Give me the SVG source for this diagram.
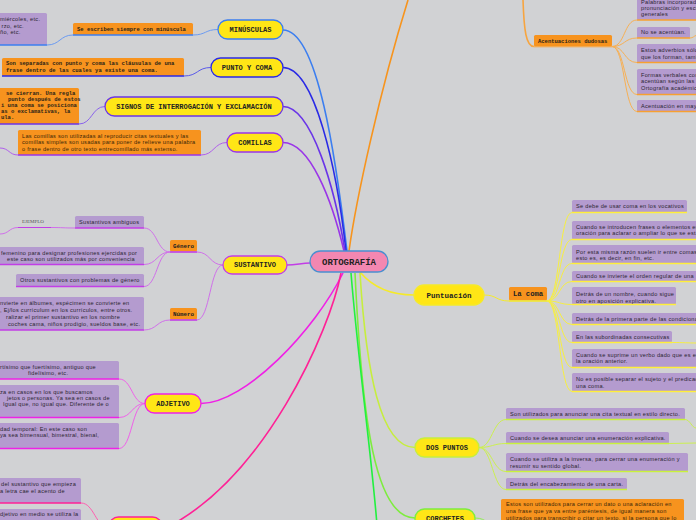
<svg xmlns="http://www.w3.org/2000/svg" width="696" height="520" viewBox="0 0 696 520">
<style>
.mn{fill:#ffe616;stroke-width:1.3}
.mt{font-family:"Liberation Mono","DejaVu Sans Mono",monospace;font-weight:bold;font-size:7px;fill:#222;text-anchor:middle}
.mo{font-family:"Liberation Mono","DejaVu Sans Mono",monospace;font-weight:bold;font-size:5.5px;fill:#2a2418}
.ob{fill:#f7931e}
.pb{fill:#b49bcf}
.st{font-family:"Liberation Sans",Arial,sans-serif;font-size:5.6px;letter-spacing:0.28px;fill:#2b2530}
.so{font-family:"Liberation Sans",Arial,sans-serif;font-size:5.6px;letter-spacing:0.28px;fill:#3a2608}
.c{fill:none;stroke-width:1}
.m{fill:none;stroke-width:1.6}
.u{stroke-width:1.6}
</style>
<rect width="696" height="520" fill="#d1d2d4"/>

<g id="connectors">
  <path class="m" stroke="#3b7ef0" d="M283,30 C318,30 336,160 347,251"/>
  <path class="m" stroke="#2a2ae6" d="M283,67.5 C315,67.5 337,170 346,251"/>
  <path class="m" stroke="#6a35e8" d="M283,106.5 C312,106.5 335,190 345,251"/>
  <path class="m" stroke="#9a35e8" d="M283,142.5 C310,142.5 332,200 344,251"/>
  <path class="m" stroke="#f7941d" d="M349,251 C356,200 380,90 408,0"/>
  <path class="m" stroke="#c23ee6" d="M287,265 C296,265 302,263 310,263"/>
  <path class="m" stroke="#f020e6" d="M201,403.5 C245,403.5 315,330 343,273"/>
  <path class="m" stroke="#ff2196" d="M341,273 C330,330 265,480 162,530"/>
  <path class="m" stroke="#f5ea2a" d="M360,272 C375,290 395,295 414,295"/>
  <path class="m" stroke="#c6ee3e" d="M360,273 C366,370 380,447.5 415,447.5"/>
  <path class="m" stroke="#7eed3e" d="M355,273 C362,420 375,518 415,518"/>
  <path class="m" stroke="#22f040" d="M351,273 C358,360 371,450 377,525"/>
  <path class="m" stroke="#f7a540" d="M523,0 C524,30 526,46.5 534,46.5"/>

  <path class="c" stroke="#6b9bf2" d="M218,29.5 C205,29.5 206,35 193,35"/>
  <path class="c" stroke="#6b9bf2" d="M73,35 C60,35 60,45 47,45"/>
  <path class="c" stroke="#5a5aea" d="M211,67.5 C197,67.5 198,76 184,76"/>
  <path class="c" stroke="#8a62ec" d="M105,106.5 C92,106.5 92,124 79,124"/>
  <path class="c" stroke="#b060ec" d="M227,142.5 C214,142.5 214,155 201,155"/>
  <path class="c" stroke="#b060ec" d="M18,155 C9,155 9,148 0,148"/>

  <path class="c" stroke="#d070ea" d="M223,265 C210,265 210,252 197,252"/>
  <path class="c" stroke="#d070ea" d="M223,265 C210,265 210,320 197,320"/>
  <path class="c" stroke="#d070ea" d="M170,252 C157,252 157,228 144,228"/>
  <path class="c" stroke="#d070ea" d="M170,252 C157,252 157,264.5 144,264.5"/>
  <path class="c" stroke="#d070ea" d="M170,252 C157,252 157,286.5 144,286.5"/>
  <path class="c" stroke="#d070ea" d="M170,320 C157,320 157,330 144,330"/>
  <path class="c" stroke="#d070ea" d="M75,228 C63,228 63,227.5 51,227.5"/>
  <path class="c" stroke="#d070ea" d="M18,227.5 C9,227.5 9,234 0,234"/>

  <path class="c" stroke="#f060ea" d="M145,403.5 C132,403.5 132,379 119,379"/>
  <path class="c" stroke="#f060ea" d="M145,403.5 C132,403.5 132,417.5 119,417.5"/>
  <path class="c" stroke="#f060ea" d="M145,403.5 C132,403.5 132,448.5 119,448.5"/>
  <path class="c" stroke="#ff60b0" d="M109,528 C96,528 94,503 81,503"/>

  <path class="c" stroke="#f7b055" d="M612,46.5 C625,46.5 624,20 637,20"/>
  <path class="c" stroke="#f7b055" d="M612,46.5 C625,46.5 624,38 637,38"/>
  <path class="c" stroke="#f7b055" d="M612,46.5 C625,46.5 624,62.5 637,62.5"/>
  <path class="c" stroke="#f7b055" d="M612,46.5 C625,46.5 624,94.5 637,94.5"/>
  <path class="c" stroke="#f7b055" d="M612,46.5 C625,46.5 624,111.5 637,111.5"/>
  <path class="c" stroke="#f7b055" d="M690,38 C693,38 694,36 696,35.5"/>

  <path class="c" stroke="#f5ea2a" d="M484,295 C497,295 496,301 509,301"/>
  <path class="c" stroke="#f7ef40" d="M547,301 C560,301 559,212.5 572,212.5"/>
  <path class="c" stroke="#f7ef40" d="M547,301 C560,301 559,239.5 572,239.5"/>
  <path class="c" stroke="#f7ef40" d="M547,301 C560,301 559,263.5 572,263.5"/>
  <path class="c" stroke="#f7ef40" d="M547,301 C560,301 559,281.5 572,281.5"/>
  <path class="c" stroke="#f7ef40" d="M547,301 C560,301 559,304.5 572,304.5"/>
  <path class="c" stroke="#f7ef40" d="M547,301 C560,301 559,324.5 572,324.5"/>
  <path class="c" stroke="#f7ef40" d="M547,301 C560,301 559,342.5 572,342.5"/>
  <path class="c" stroke="#f7ef40" d="M547,301 C560,301 559,367.5 572,367.5"/>
  <path class="c" stroke="#f7ef40" d="M547,301 C560,301 559,391.5 572,391.5"/>
  <path class="c" stroke="#f7ef40" d="M672,342.5 C684,342.5 688,343 696,343"/>

  <path class="c" stroke="#ccf050" d="M479,447.5 C492,447.5 493,419.5 506,419.5"/>
  <path class="c" stroke="#ccf050" d="M479,447.5 C492,447.5 493,443.5 506,443.5"/>
  <path class="c" stroke="#ccf050" d="M479,447.5 C492,447.5 493,471.5 506,471.5"/>
  <path class="c" stroke="#ccf050" d="M479,447.5 C492,447.5 493,489.5 506,489.5"/>
  <path class="c" stroke="#ccf050" d="M685,419.5 C690,419.5 692,428 696,428"/>
  <path class="c" stroke="#ccf050" d="M669,443.5 L696,443"/>
  <path class="c" stroke="#90ee50" d="M475,518 C488,518 488,527 501,527"/>
</g>

<g id="n-ortografia">
  <rect x="310" y="251" width="78" height="21" rx="10.5" fill="#f387b1" stroke="#4b8fd0" stroke-width="1.3"/>
  <text class="mt" x="349" y="264.8" style="font-size:9px">ORTOGRAFÍA</text>
</g>

<g id="n-minusculas">
  <rect class="mn" x="218" y="20" width="65" height="19" rx="9.5" stroke="#3b7ef0"/>
  <text class="mt" x="250.5" y="31.8">MINÚSCULAS</text>
</g>
<g id="n-minusculas-1">
  <rect class="ob" x="73" y="23" width="120" height="12" rx="1.5"/>
  <line class="u" x1="73" y1="35" x2="193" y2="35" stroke="#3b7ef0"/>
  <text class="mo" x="77" y="30.8">Se escriben siempre con minúscula</text>
</g>
<g id="n-minusculas-2">
  <rect class="pb" x="-3" y="13" width="50" height="32" rx="1.5"/>
  <line class="u" x1="0" y1="45" x2="47" y2="45" stroke="#3b7ef0"/>
  <text class="st" x="0" y="21">miércoles, etc.</text>
  <text class="st" x="1.5" y="27.5">rzo, etc.</text>
  <text class="st" x="0" y="34">ño, etc.</text>
</g>

<g id="n-puntoycoma">
  <rect class="mn" x="211" y="58" width="72" height="19" rx="9.5" stroke="#2a2ae6"/>
  <text class="mt" x="247" y="69.8">PUNTO Y COMA</text>
</g>
<g id="n-puntoycoma-1">
  <rect class="ob" x="2" y="58" width="182" height="18" rx="1.5"/>
  <line class="u" x1="2" y1="76" x2="184" y2="76" stroke="#2a2ae6"/>
  <text class="mo" x="6" y="64.6">Son separadas con punto y coma las cláusulas de una</text>
  <text class="mo" x="6" y="71.6">frase dentro de las cuales ya existe una coma.</text>
</g>

<g id="n-signos">
  <rect class="mn" x="105" y="97" width="178" height="19" rx="9.5" stroke="#6a35e8"/>
  <text class="mt" x="194" y="108.8">SIGNOS DE INTERROGACIÓN Y EXCLAMACIÓN</text>
</g>
<g id="n-signos-1">
  <rect class="ob" x="-3" y="88" width="82" height="36" rx="1.5"/>
  <line class="u" x1="0" y1="124" x2="79" y2="124" stroke="#6a35e8"/>
  <text class="mo" x="6" y="94.7">se cierran. Una regla</text>
  <text class="mo" x="8" y="100.9">punto después de estos</text>
  <text class="mo" x="1" y="107">i una coma se posiciona</text>
  <text class="mo" x="1" y="113">as o exclamativas, la</text>
  <text class="mo" x="1" y="119.3">ula.</text>
</g>

<g id="n-comillas">
  <rect class="mn" x="227" y="133" width="56" height="19" rx="9.5" stroke="#9a35e8"/>
  <text class="mt" x="255" y="144.8">COMILLAS</text>
</g>
<g id="n-comillas-1">
  <rect class="ob" x="18" y="130" width="183" height="25" rx="1.5"/>
  <line class="u" x1="18" y1="155" x2="201" y2="155" stroke="#9a35e8"/>
  <text class="so" x="22" y="138">Las comillas son utilizadas al reproducir citas textuales y las</text>
  <text class="so" x="22" y="144.4">comillas simples son usadas para poner de relieve una palabra</text>
  <text class="so" x="22" y="151">o frase dentro de otro texto entrecomillado más extenso.</text>
</g>

<g id="n-sustantivo">
  <rect class="mn" x="223" y="256" width="64" height="18" rx="9" stroke="#c23ee6"/>
  <text class="mt" x="255" y="267.4">SUSTANTIVO</text>
</g>
<g id="n-genero">
  <rect class="ob" x="170" y="240" width="27" height="11.5" rx="1.5"/>
  <line class="u" x1="170" y1="252" x2="197" y2="252" stroke="#c23ee6"/>
  <text class="mt" x="183.5" y="247.8" style="font-size:5.8px">Género</text>
</g>
<g id="n-numero">
  <rect class="ob" x="170" y="308" width="27" height="11.5" rx="1.5"/>
  <line class="u" x1="170" y1="320" x2="197" y2="320" stroke="#c23ee6"/>
  <text class="mt" x="183.5" y="315.8" style="font-size:5.8px">Número</text>
</g>
<g id="n-ambiguos">
  <rect class="pb" x="75" y="216" width="69" height="12" rx="1.5"/>
  <line class="u" x1="75" y1="228" x2="144" y2="228" stroke="#c23ee6"/>
  <text class="st" x="79" y="224.2">Sustantivos ambiguos</text>
</g>
<g id="n-ejemplo">
  <line x1="18" y1="227.5" x2="51" y2="227.5" stroke="#c23ee6" stroke-width="1.2"/>
  <text x="22" y="223" style="font-family:'Liberation Serif','Times New Roman',serif;font-size:5px;fill:#555">EJEMPLO</text>
</g>
<g id="n-femenino">
  <rect class="pb" x="-3" y="247" width="147" height="17.5" rx="1.5"/>
  <line class="u" x1="0" y1="264.5" x2="144" y2="264.5" stroke="#c23ee6"/>
  <text class="st" x="1" y="254.6">femenino para designar profesiones ejercidas por</text>
  <text class="st" x="7" y="261">este caso son utilizados más por conveniencia</text>
</g>
<g id="n-otros">
  <rect class="pb" x="16" y="274" width="128" height="12.5" rx="1.5"/>
  <line class="u" x1="16" y1="286.5" x2="144" y2="286.5" stroke="#c23ee6"/>
  <text class="st" x="20" y="282.3">Otros sustantivos con problemas de género</text>
</g>
<g id="n-plural">
  <rect class="pb" x="-3" y="297" width="147" height="33" rx="1.5"/>
  <line class="u" x1="0" y1="330" x2="144" y2="330" stroke="#c23ee6"/>
  <text class="st" x="0" y="304.5">nvierte en álbumes, espécimen se convierte en</text>
  <text class="st" x="0" y="311.5">, Ej/los currículum en los currículos, entre otros.</text>
  <text class="st" x="6" y="318.5">ralizar el primer sustantivo en los nombre</text>
  <text class="st" x="8" y="325.5">coches cama, niños prodigio, sueldos base, etc.</text>
</g>

<g id="n-adjetivo">
  <rect class="mn" x="145" y="394" width="56" height="19" rx="9.5" stroke="#ee22e6"/>
  <text class="mt" x="173" y="405.8">ADJETIVO</text>
</g>
<g id="n-adj-1">
  <rect class="pb" x="-3" y="361" width="122" height="18" rx="1.5"/>
  <line class="u" x1="0" y1="379" x2="119" y2="379" stroke="#ee22e6"/>
  <text class="st" x="0" y="368.7">rtísimo que fuertísimo, antiguo que</text>
  <text class="st" x="28" y="375.3">fidelísimo, etc.</text>
</g>
<g id="n-adj-2">
  <rect class="pb" x="-3" y="385" width="122" height="32.5" rx="1.5"/>
  <line class="u" x1="0" y1="417.5" x2="119" y2="417.5" stroke="#ee22e6"/>
  <text class="st" x="0" y="394">za en casos en los que buscamos</text>
  <text class="st" x="7" y="400">jetos o personas. Ya sea en casos de</text>
  <text class="st" x="3" y="406">Igual que, no igual que. Diferente de o</text>
</g>
<g id="n-adj-3">
  <rect class="pb" x="-3" y="423" width="122" height="25.5" rx="1.5"/>
  <line class="u" x1="0" y1="448.5" x2="119" y2="448.5" stroke="#ee22e6"/>
  <text class="st" x="0" y="431">dad temporal: En este caso son</text>
  <text class="st" x="0" y="437">ya sea bimensual, bimestral, bienal,</text>
</g>

<g id="n-pink">
  <rect class="mn" x="109" y="517" width="53" height="19" rx="9.5" stroke="#ff2196"/>
</g>
<g id="n-pink-1">
  <rect class="pb" x="-3" y="478" width="84" height="25" rx="1.5"/>
  <line class="u" x1="0" y1="503" x2="81" y2="503" stroke="#ff2196"/>
  <text class="st" x="1" y="486">del sustantivo que empieza</text>
  <text class="st" x="0" y="493">a letra cae el acento de</text>
</g>
<g id="n-pink-2">
  <rect class="pb" x="-3" y="509" width="84" height="20" rx="1.5"/>
  <text class="st" x="0" y="516">djetivo en medio se utiliza la</text>
</g>

<g id="n-acent">
  <rect class="ob" x="534" y="35" width="78" height="11.5" rx="1.5"/>
  <line x1="534" y1="46.8" x2="612" y2="46.8" stroke="#f7a540" stroke-width="1"/>
  <text class="mo" x="538" y="42.7">Acentuaciones dudosas</text>
</g>
<g id="n-acent-1">
  <rect class="pb" x="637" y="-5" width="65" height="25" rx="1.5"/>
  <line class="u" x1="637" y1="20" x2="700" y2="20" stroke="#f7a030"/>
  <text class="st" x="641" y="3.5">Palabras incorporadas</text>
  <text class="st" x="641" y="9.8">pronunciación y escritura</text>
  <text class="st" x="641" y="16.3">generales</text>
</g>
<g id="n-acent-2">
  <rect class="pb" x="637" y="27" width="53" height="11" rx="1.5"/>
  <line class="u" x1="637" y1="38" x2="690" y2="38" stroke="#f7a030"/>
  <text class="st" x="641" y="34.3">No se acentúan.</text>
</g>
<g id="n-acent-3">
  <rect class="pb" x="637" y="44" width="65" height="18.5" rx="1.5"/>
  <line class="u" x1="637" y1="62.5" x2="700" y2="62.5" stroke="#f7a030"/>
  <text class="st" x="641" y="52">Estos adverbios sólo</text>
  <text class="st" x="641" y="58.7">que los forman, también</text>
</g>
<g id="n-acent-4">
  <rect class="pb" x="637" y="69" width="65" height="25.5" rx="1.5"/>
  <line class="u" x1="637" y1="94.5" x2="700" y2="94.5" stroke="#f7a030"/>
  <text class="st" x="641" y="77">Formas verbales con</text>
  <text class="st" x="641" y="83.2">acentúan según las</text>
  <text class="st" x="641" y="89.5">Ortografía académica</text>
</g>
<g id="n-acent-5">
  <rect class="pb" x="637" y="100" width="65" height="11.5" rx="1.5"/>
  <line class="u" x1="637" y1="111.5" x2="700" y2="111.5" stroke="#f7a030"/>
  <text class="st" x="641" y="108">Acentuación en mayúsculas</text>
</g>

<g id="n-puntuacion">
  <rect class="mn" x="414" y="285" width="70" height="20" rx="10" stroke="#f5ea2a"/>
  <text class="mt" x="449" y="297.6" style="font-size:7.5px">Puntuación</text>
</g>
<g id="n-lacoma">
  <rect class="ob" x="509" y="287" width="38" height="13.5" rx="1.5"/>
  <line class="u" x1="509" y1="301" x2="547" y2="301" stroke="#f5ea2a"/>
  <text class="mt" x="528" y="296.2" style="font-size:7.2px">La coma</text>
</g>
<g id="n-coma-1">
  <rect class="pb" x="572" y="200" width="115" height="12.5" rx="1.5"/>
  <line class="u" x1="572" y1="212.5" x2="687" y2="212.5" stroke="#ffef3a"/>
  <text class="st" x="576" y="208.3">Se debe de usar coma en los vocativos</text>
</g>
<g id="n-coma-2">
  <rect class="pb" x="572" y="221" width="130" height="18.5" rx="1.5"/>
  <line class="u" x1="572" y1="239.5" x2="700" y2="239.5" stroke="#ffef3a"/>
  <text class="st" x="576" y="228.7">Cuando se introducen frases o elementos en</text>
  <text class="st" x="576" y="235.3">oración para aclarar o ampliar lo que se está</text>
</g>
<g id="n-coma-3">
  <rect class="pb" x="572" y="245" width="130" height="18.5" rx="1.5"/>
  <line class="u" x1="572" y1="263.5" x2="700" y2="263.5" stroke="#ffef3a"/>
  <text class="st" x="576" y="253.6">Por esta misma razón suelen ir entre comas</text>
  <text class="st" x="576" y="260.2">esto es, es decir, en fin, etc.</text>
</g>
<g id="n-coma-4">
  <rect class="pb" x="572" y="271" width="130" height="10.5" rx="1.5"/>
  <line class="u" x1="572" y1="281.5" x2="700" y2="281.5" stroke="#ffef3a"/>
  <text class="st" x="576" y="278.2">Cuando se invierte el orden regular de una</text>
</g>
<g id="n-coma-5">
  <rect class="pb" x="572" y="287" width="104" height="17.5" rx="1.5"/>
  <line class="u" x1="572" y1="304.5" x2="676" y2="304.5" stroke="#ffef3a"/>
  <text class="st" x="576" y="296.2">Detrás de un nombre, cuando sigue</text>
  <text class="st" x="576" y="302.8">otro en aposición explicativa.</text>
</g>
<g id="n-coma-6">
  <rect class="pb" x="572" y="313" width="130" height="11.5" rx="1.5"/>
  <line class="u" x1="572" y1="324.5" x2="700" y2="324.5" stroke="#ffef3a"/>
  <text class="st" x="576" y="321">Detrás de la primera parte de las condicionales</text>
</g>
<g id="n-coma-7">
  <rect class="pb" x="572" y="331" width="100" height="11.5" rx="1.5"/>
  <line class="u" x1="572" y1="342.5" x2="672" y2="342.5" stroke="#ffef3a"/>
  <text class="st" x="576" y="339">En las subordinadas consecutivas</text>
</g>
<g id="n-coma-8">
  <rect class="pb" x="572" y="349" width="130" height="18.5" rx="1.5"/>
  <line class="u" x1="572" y1="367.5" x2="700" y2="367.5" stroke="#ffef3a"/>
  <text class="st" x="576" y="357">Cuando se suprime un verbo dado que es en</text>
  <text class="st" x="576" y="363.4">la oración anterior.</text>
</g>
<g id="n-coma-9">
  <rect class="pb" x="572" y="373" width="130" height="18.5" rx="1.5"/>
  <line class="u" x1="572" y1="391.5" x2="700" y2="391.5" stroke="#ffef3a"/>
  <text class="st" x="576" y="381">No es posible separar el sujeto y el predicado</text>
  <text class="st" x="576" y="387.7">una coma.</text>
</g>

<g id="n-dospuntos">
  <rect class="mn" x="415" y="438" width="64" height="19" rx="9.5" stroke="#c6ee3e"/>
  <text class="mt" x="447" y="449.8">DOS PUNTOS</text>
</g>
<g id="n-dp-1">
  <rect class="pb" x="506" y="408" width="179" height="11.5" rx="1.5"/>
  <line class="u" x1="506" y1="419.5" x2="685" y2="419.5" stroke="#c9f23c"/>
  <text class="st" x="510" y="415.8">Son utilizados para anunciar una cita textual en estilo directo.</text>
</g>
<g id="n-dp-2">
  <rect class="pb" x="506" y="432" width="163" height="11.5" rx="1.5"/>
  <line class="u" x1="506" y1="443.5" x2="669" y2="443.5" stroke="#c9f23c"/>
  <text class="st" x="510" y="439.8">Cuando se desea anunciar una enumeración explicativa.</text>
</g>
<g id="n-dp-3">
  <rect class="pb" x="506" y="453" width="182" height="18.5" rx="1.5"/>
  <line class="u" x1="506" y1="471.5" x2="688" y2="471.5" stroke="#c9f23c"/>
  <text class="st" x="510" y="461">Cuando se utiliza a la inversa, para cerrar una enumeración y</text>
  <text class="st" x="510" y="467.6">resumir su sentido global.</text>
</g>
<g id="n-dp-4">
  <rect class="pb" x="506" y="478" width="121" height="11.5" rx="1.5"/>
  <line class="u" x1="506" y1="489.5" x2="627" y2="489.5" stroke="#c9f23c"/>
  <text class="st" x="510" y="485.8">Detrás del encabezamiento de una carta.</text>
</g>

<g id="n-corchetes">
  <rect class="mn" x="415" y="509" width="60" height="19" rx="9.5" stroke="#7eed3e"/>
  <text class="mt" x="445" y="520.8">CORCHETES</text>
</g>
<g id="n-corchetes-1">
  <rect class="ob" x="501" y="499" width="183" height="30" rx="1.5"/>
  <text class="so" x="506" y="506">Estos son utilizados para cerrar un dato o una aclaración en</text>
  <text class="so" x="506" y="513">una frase que ya va entre paréntesis, de igual manera son</text>
  <text class="so" x="506" y="520">utilizados para transcribir o citar un texto, si la persona que lo</text>
</g>
</svg>
